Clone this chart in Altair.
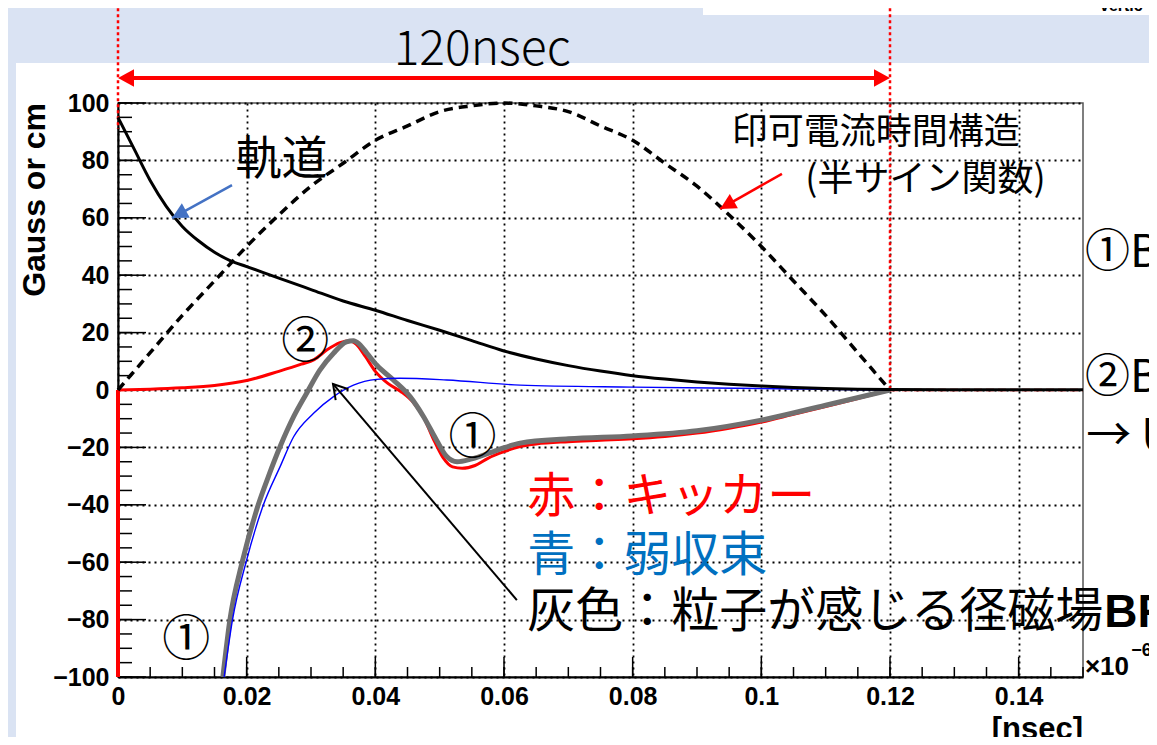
import math
import altair as alt
import pandas as pd

# ---------------- data ----------------
# orbit (black solid)
orbit_x = [0, 0.0025, 0.005, 0.0075, 0.01, 0.0125, 0.015, 0.0175, 0.02, 0.025, 0.03, 0.035,
           0.04, 0.045, 0.05, 0.055, 0.06, 0.065, 0.07, 0.075, 0.08, 0.085, 0.09, 0.095,
           0.1, 0.105, 0.11, 0.115, 0.12, 0.135, 0.15]
orbit_y = [95, 84, 73, 64, 57, 52, 48, 45, 43, 39, 35, 31,
           27.8, 24.2, 20.8, 17.2, 13.6, 10.8, 8.5, 6.6, 5.0, 3.8, 2.8, 2.0,
           1.4, 0.9, 0.5, 0.3, 0.2, 0.1, 0.1]

# applied current time structure (black dashed, half sine)
sine_x = [0, 0.005, 0.01, 0.015, 0.02, 0.025, 0.03, 0.035, 0.04, 0.045, 0.05, 0.055, 0.06,
          0.065, 0.07, 0.075, 0.08, 0.085, 0.09, 0.095, 0.1, 0.105, 0.11, 0.115, 0.12]
sine_y = [0, 13, 26, 38, 50, 61, 71, 79, 87, 92, 97, 99, 100,
          99, 97, 92, 87, 79, 71, 61, 50, 38, 26, 13, 0]

# kicker (red)
kicker_x = [0, 0.005, 0.01, 0.015, 0.02, 0.025, 0.0285, 0.0305, 0.0325, 0.0345, 0.036,
            0.037, 0.0385, 0.04, 0.042, 0.044, 0.046, 0.0475, 0.049, 0.0505, 0.052, 0.0535,
            0.0555, 0.0575, 0.06, 0.0625, 0.065, 0.07, 0.075, 0.08, 0.085, 0.09, 0.095,
            0.1, 0.105, 0.11, 0.115, 0.12]
kicker_y = [0, 0.3, 0.8, 1.6, 3.3, 6.5, 9.0, 10.6, 14.0, 16.5, 17.2,
            16.0, 11.5, 6.5, 2.2, -0.6, -4.6, -9.5, -17.0, -23.5, -26.8, -27.3,
            -26.3, -23.8, -21.5, -19.7, -18.8, -18.0, -17.5, -17.0, -16.2, -15.0, -13.3,
            -11.2, -8.5, -5.8, -3.0, 0]
kicker_tail_x = [0.12, 0.15]
kicker_tail_y = [0, 0]
kicker_edge_x = [0]
kicker_edge_y = [-100]
kicker_edge_y2 = [0]

# weak focusing (blue)
weak_x = [0.0165, 0.0178, 0.0199, 0.0226, 0.0252, 0.0273, 0.0304, 0.0335,
          0.0366, 0.0402, 0.0438, 0.0511, 0.0625, 0.08, 0.1, 0.12, 0.15]
weak_y = [-100, -80, -60, -40, -26.7, -16.3, -8.1, -2.3,
          1.7, 3.7, 4.1, 3.5, 1.7, 1.0, 0.5, 0, 0]

# field felt by the particle (gray)
felt_x = [0.0163, 0.0174, 0.0193, 0.0218, 0.0234, 0.0252, 0.0273, 0.0293, 0.0314,
          0.0335, 0.0355, 0.0366, 0.0375, 0.0387, 0.0402, 0.0428, 0.0454, 0.0475, 0.0495,
          0.0511, 0.0527, 0.055, 0.0589, 0.0625, 0.07, 0.08, 0.09, 0.1, 0.11, 0.12]
felt_y = [-100, -80, -60, -40, -30, -19.7, -9.3, -1.2, 7.0,
          12.8, 16.8, 17.2, 16.0, 12.8, 8.7, 3.5, -2.3, -9.3, -17.4,
          -23.2, -25.0, -24.0, -21.0, -18.5, -17.0, -16.0, -14.2, -10.5, -5.3, 0]

# axis tick labels / tick positions
x_tick_labels = [0, 0.02, 0.04, 0.06, 0.08, 0.1, 0.12, 0.14]
y_tick_labels = [-100, -80, -60, -40, -20, 0, 20, 40, 60, 80, 100]
x_minor_ticks = [round(i * 0.005, 3) for i in range(31)]
y_minor_ticks = list(range(-100, 101, 5))
y_major_ticks = list(range(-100, 101, 20))

# annotation texts
label_orbit = ["軌道"]
label_current = ["印可電流時間構造", "(半サイン関数)"]
label_circled = ["②", "①", "①"]
label_right = ["①B", "②B", "→ U"]
label_legend = ["赤：キッカー", "青：弱収束", "灰色：粒子が感じる径磁場"]
label_legend_bold = ["BR"]
label_span = ["120nsec"]

CJK = "Noto Sans CJK JP"
SANS = "Liberation Sans"

W, H = 965, 574
PX_X = W / 0.15      # pixels per x unit
PX_Y = H / 200.0     # pixels per y unit

xscale = alt.Scale(domain=[0, 0.15], nice=False, zero=False)
yscale = alt.Scale(domain=[-100, 100], nice=False, zero=False)

x_axis = alt.Axis(
    values=x_tick_labels, format="~g", title=None, labelFont=SANS, labelFontWeight="bold",
    labelFontSize=25, labelColor="black", labelPadding=7, labelFlush=False,
    labelOverlap=False, ticks=False, domain=True, domainColor="black", domainWidth=2,
    grid=True, gridColor="black", gridOpacity=1, gridDash=[2, 4], gridWidth=1.8)
y_axis = alt.Axis(
    values=y_tick_labels, format="d", title=None, labelFont=SANS, labelFontWeight="bold",
    labelFontSize=25, labelColor="black", labelPadding=9, labelFlush=False,
    labelOverlap=False, ticks=False, domain=True, domainColor="black", domainWidth=2,
    grid=True, gridColor="black", gridOpacity=1, gridDash=[2, 4], gridWidth=1.8)

X = alt.X("x:Q", scale=xscale, axis=x_axis)
Y = alt.Y("y:Q", scale=yscale, axis=y_axis)


def line_layer(xs, ys, color, width, dash=None, interp="monotone"):
    df = pd.DataFrame({"x": xs, "y": ys, "i": list(range(len(xs)))})
    kw = dict(color=color, strokeWidth=width, interpolate=interp, clip=False,
              strokeCap="butt", strokeJoin="round")
    if dash:
        kw["strokeDash"] = dash
    return alt.Chart(df).mark_line(**kw).encode(x=X, y=Y, order="i:Q")


def text_layer(xs, ys, texts, size, color="black", align="center", font=CJK,
               weight="normal", angle=0, baseline="middle"):
    df = pd.DataFrame({"x": xs, "y": ys, "t": texts})
    return alt.Chart(df).mark_text(fontSize=size, color=color, align=align, baseline=baseline,
                                   font=font, fontWeight=weight, angle=angle).encode(
        x=X, y=Y, text="t:N")


def arrow_layers(x0, y0, x1, y1, color, width, head="filled", head_r=15):
    dxp = (x1 - x0) * PX_X
    dyp = -(y1 - y0) * PX_Y
    ang = math.degrees(math.atan2(dxp, -dyp)) % 360
    shaft = line_layer([x0, x1], [y0, y1], color, width, interp="linear")
    if head == "filled":
        shape = "M0,0 L-0.55,1.05 L0.55,1.05 Z"
        pt = alt.Chart(pd.DataFrame({"x": [x1], "y": [y1]})).mark_point(
            shape=shape, filled=True, color=color, opacity=1, size=(2 * head_r) ** 2,
            angle=round(ang, 1), clip=False).encode(x=X, y=Y)
    else:
        shape = "M-0.6,1 L0,0 L0.6,1"
        pt = alt.Chart(pd.DataFrame({"x": [x1], "y": [y1]})).mark_point(
            shape=shape, filled=False, color=color, opacity=1, strokeWidth=width,
            size=(2 * head_r) ** 2, angle=round(ang, 1), clip=False).encode(x=X, y=Y)
    return [shaft, pt]


one = pd.DataFrame({"a": [0]})
BLUEBG = "#DAE3F3"

layers = []
# decorative slide background
layers.append(alt.Chart(one).mark_rect(color=BLUEBG).encode(
    x=alt.value(-110), x2=alt.value(1031), y=alt.value(-95), y2=alt.value(-40)))
layers.append(alt.Chart(one).mark_rect(color=BLUEBG).encode(
    x=alt.value(-110), x2=alt.value(-102), y=alt.value(-40), y2=alt.value(634)))
layers.append(alt.Chart(one).mark_rect(color="white").encode(
    x=alt.value(585), x2=alt.value(1031), y=alt.value(-95), y2=alt.value(-88)))
layers.append(alt.Chart(one).mark_text(text="vertic", font=SANS, fontWeight="bold", fontSize=16,
                                        align="left", baseline="alphabetic", color="black").encode(
    x=alt.value(982), y=alt.value(-92)))

# inside ticks (ROOT style)
layers.append(alt.Chart(pd.DataFrame({"y": y_minor_ticks})).mark_rule(color="black", strokeWidth=1.5).encode(
    y=Y, x=alt.value(0), x2=alt.value(14)))
layers.append(alt.Chart(pd.DataFrame({"y": y_major_ticks})).mark_rule(color="black", strokeWidth=1.5).encode(
    y=Y, x=alt.value(0), x2=alt.value(28)))
layers.append(alt.Chart(pd.DataFrame({"x": x_minor_ticks})).mark_rule(color="black", strokeWidth=1.5).encode(
    x=X, y=alt.value(H), y2=alt.value(H - 10)))
layers.append(alt.Chart(pd.DataFrame({"x": x_tick_labels})).mark_rule(color="black", strokeWidth=1.5).encode(
    x=X, y=alt.value(H), y2=alt.value(H - 20)))

# red dotted markers of the 120 nsec span
layers.append(alt.Chart(pd.DataFrame({"x": [0], "y": [133], "y2": [91]})).mark_rule(
    color="red", strokeWidth=2.5, strokeDash=[3, 3], clip=False).encode(x=X, y=Y, y2="y2:Q"))
layers.append(alt.Chart(pd.DataFrame({"x": [0.12], "y": [133], "y2": [0]})).mark_rule(
    color="red", strokeWidth=2.5, strokeDash=[3, 3], clip=False).encode(x=X, y=Y, y2="y2:Q"))

# curves
layers.append(line_layer(kicker_tail_x, kicker_tail_y, "red", 2.5, dash=[8, 4], interp="linear"))
layers.append(alt.Chart(pd.DataFrame({"x": kicker_edge_x, "y": kicker_edge_y, "y2": kicker_edge_y2}))
              .mark_rule(color="red", strokeWidth=4).encode(x=X, y=Y, y2="y2:Q"))
layers.append(line_layer(kicker_x, kicker_y, "red", 3))
layers.append(line_layer(felt_x, felt_y, "#707070", 5))
layers.append(line_layer(weak_x, weak_y, "#0000FF", 1.4))
layers.append(line_layer(sine_x, sine_y, "black", 3.5, dash=[9, 6]))
layers.append(line_layer(orbit_x, orbit_y, "black", 3))

# 120 nsec double arrow
layers.append(line_layer([0.002, 0.118], [108.7, 108.7], "red", 4, interp="linear"))
for xx, ang in [(0, 270), (0.12, 90)]:
    layers.append(alt.Chart(pd.DataFrame({"x": [xx], "y": [108.7]})).mark_point(
        shape="M0,0 L-0.55,1 L0.55,1 Z", filled=True, color="red", opacity=1,
        size=1024, angle=ang, clip=False).encode(x=X, y=Y))

# annotation arrows
layers += arrow_layers(0.01772, 71.4, 0.0084, 59.9, "#4472C4", 2.5, "filled", 15)
layers += arrow_layers(0.1032, 75.3, 0.0936, 63.1, "red", 2.5, "filled", 15)
layers += arrow_layers(0.0620, -73.2, 0.03342, 2.1, "black", 2, "open", 14)

# texts
layers.append(text_layer([0.0566], [118.1], label_span, 48, weight=300))
layers.append(text_layer([0.0254], [80.1], label_orbit, 46))
layers.append(text_layer([0.1178, 0.1255], [89.5, 73.2], label_current, 36))
layers.append(text_layer([0.0291, 0.0551, 0.0106], [16.4, -17.2, -87.5], label_circled, 48))
layers.append(text_layer([0.1503, 0.1503, 0.1505], [47.7, 4.2, -16.4], label_right, 45, align="left"))
legend_df = pd.DataFrame({"x": [0.0636, 0.0636, 0.0636], "y": [-37.6, -58.2, -77.7],
                          "t": label_legend, "c": ["#FF0000", "#0070C0", "#000000"]})
layers.append(alt.Chart(legend_df).mark_text(fontSize=48, font=CJK, align="left", baseline="middle").encode(
    x=X, y=Y, text="t:N", color=alt.Color("c:N", scale=None)))
layers.append(text_layer([0.1533], [-77.7], label_legend_bold, 46, align="left", font=SANS, weight="bold"))

# axis titles and exponent
layers.append(text_layer([-0.0129], [100], ["Gauss or cm"], 32, align="right", font=SANS,
                         weight="bold", angle=270))
layers.append(text_layer([0.15], [-118.5], ["[nsec]"], 31, align="right", font=SANS, weight="bold"))
layers.append(text_layer([0.1503], [-96.5], ["×10"], 26, align="left", font=SANS, weight="bold"))
layers.append(text_layer([0.1575], [-90.8], ["−6"], 18, align="left", font=SANS, weight="bold"))

chart = alt.layer(*layers).properties(
    width=W, height=H, autosize="none",
    padding={"left": 110, "top": 95, "right": 66, "bottom": 60},
).configure(background="white").configure_view(stroke="#555555", strokeWidth=1.5)

chart.save("out.html", embed_options={"renderer": "svg", "actions": False})
